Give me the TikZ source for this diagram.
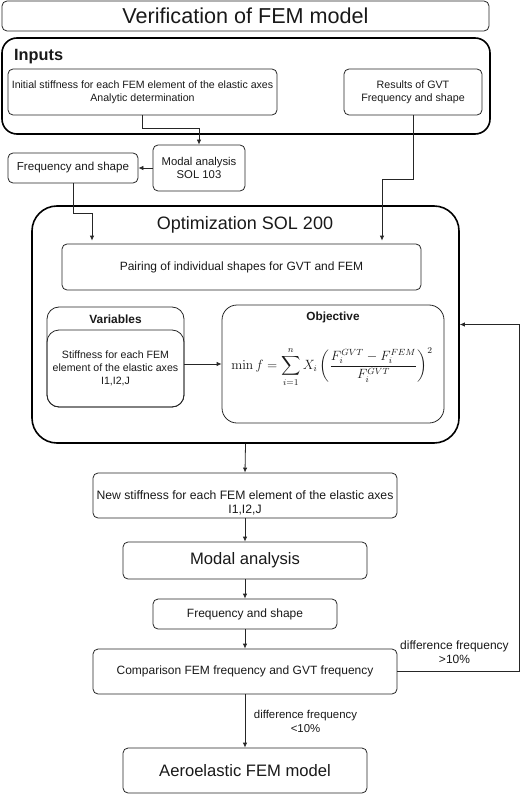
\documentclass[tikz,border=0pt]{standalone}
\usepackage[no-math]{fontspec}
\setmainfont{Liberation Sans}
\usepackage{amsmath}
\usepackage{graphicx}
\usetikzlibrary{arrows.meta,calc}
\begin{document}
\begin{tikzpicture}[x=1pt,y=-1pt,
  box/.style={draw=black!85, rounded corners=5pt, line width=0.8pt, inner sep=1pt, align=center, text=black!90},
  bigbox/.style={draw=black, line width=1.6pt, rounded corners=#1, inner sep=0pt},
  arr/.style={-{Latex[length=5pt,width=4.5pt]}, line width=0.8pt, draw=black!85},
  txt/.style={align=center, inner sep=0pt, text=black!90},
  fsa/.style={font=\fontsize{10.6}{13}\selectfont},
  fsb/.style={font=\fontsize{12}{14}\selectfont},
  fsc/.style={font=\fontsize{16.6}{19}\selectfont},
]
\useasboundingbox (0,0) rectangle (520,794);

% title
\node[box, minimum width=487pt, minimum height=30pt, font=\fontsize{21.6}{24}\selectfont] (title) at (245.5,16) {Verification of FEM model};

% inputs group
\node[bigbox=15pt, minimum width=488pt, minimum height=96pt] (inputs) at (246,86) {};
\node[txt, anchor=west, font=\fontsize{16.3}{18}\bfseries] (inputst) at (14,57) {Inputs};
\node[box, fsa, minimum width=269pt, minimum height=46pt] (init) at (142.5,92) {Initial stiffness for each FEM element of the elastic axes\\Analytic determination};
\node[box, font=\fontsize{10.7}{13}\selectfont, minimum width=138pt, minimum height=46pt] (gvt) at (413,92) {Results of GVT\\Frequency and shape};

\node[box, font=\fontsize{11.3}{13}\selectfont, minimum width=92pt, minimum height=46pt] (modal1) at (199,168) {Modal analysis\\SOL 103};
\node[box, font=\fontsize{11.6}{13}\selectfont, minimum width=130pt, minimum height=30pt] (freq1) at (73,168) {Frequency and shape};

% optimization group
\node[bigbox=25pt, minimum width=427pt, minimum height=237pt] (opt) at (245.5,324.5) {};
\node[txt, font=\fontsize{18}{20}\selectfont] (optt) at (245,225) {Optimization SOL 200};
\node[box, fsb, minimum width=359pt, minimum height=46pt] (pair) at (241.5,267) {Pairing of individual shapes for GVT and FEM};

\node[draw=black!85, line width=0.8pt, rounded corners=12pt, minimum width=137pt, minimum height=100pt, inner sep=0pt] (varout) at (115.5,357) {};
\node[txt, font=\fontsize{11.9}{14}\bfseries] (vart) at (115.5,319) {Variables};
\node[draw=black!85, line width=0.8pt, rounded corners=12pt, minimum width=137pt, minimum height=77pt, inner sep=0pt, align=center, fsa, text=black!90] (varbody) at (115.5,368.5) {Stiffness for each FEM\\element of the elastic axes\\I1,I2,J};

\node[draw=black!85, line width=0.8pt, rounded corners=15pt, minimum width=222pt, minimum height=118pt, inner sep=0pt] (obj) at (333,364) {};
\node[txt, font=\fontsize{11.8}{14}\bfseries] (objt) at (333,317) {Objective};
\node[txt, font=\fontsize{12}{14}\selectfont] (formula) at (332,367) {\scalebox{1.12}{$\displaystyle \min f = \sum_{i=1}^{n} X_i \left(\frac{F_i^{GVT} - F_i^{FEM}}{F_i^{GVT}}\right)^{2}$}};

% lower chain
\node[box, minimum width=304pt, minimum height=45pt] (newst) at (245,495.5) {};
\node[txt, font=\fontsize{12.2}{14}\selectfont] (newstt) at (245,503) {New stiffness for each FEM element of the elastic axes\\I1,I2,J};
\node[box, fsc, minimum width=244pt, minimum height=37pt] (modal2) at (245,560.5) {Modal analysis};
\node[box, fsb, minimum width=184pt, minimum height=30pt] (freq2) at (245,614) {Frequency and shape};
\node[box, fsb, minimum width=304pt, minimum height=45pt] (comp) at (245,671.5) {Comparison FEM frequency and GVT frequency};
\node[box, fsc, minimum width=244pt, minimum height=45pt] (aero) at (245,770.5) {Aeroelastic FEM model};

% labels
\node[txt, font=\fontsize{12}{14}\selectfont] (lblgt) at (454.5,652) {difference frequency\\>10\%};
\node[txt, font=\fontsize{11.4}{14}\selectfont] (lbllt) at (305.5,721) {difference frequency\\<10\%};

% helper coordinates
\coordinate (c1) at (199,128);
\coordinate (c2) at (92,213);
\coordinate (c3) at (382,179);
\coordinate (fbx) at (519,0);

% connectors
\draw[arr] (init.south) |- (c1) -- (modal1.north);
\draw[arr] (modal1.west) -- (freq1.east);
\draw[arr] (freq1.south) |- (c2) -- ($(c2 |- pair.north)+(0,-3)$);
\draw[arr] (gvt.south) |- (c3) -- ($(c3 |- pair.north)+(0,-3)$);
\draw[arr] (varbody.east |- obj.west) -- (obj.west);
\draw[arr] (opt.south) -- (newst.north);
\draw[arr] (newst.south) -- (modal2.north);
\draw[arr] (modal2.south) -- (freq2.north);
\draw[arr] (freq2.south) -- (comp.north);
\draw[arr] (comp.south) -- (aero.north);
\draw[arr] (comp.east) -- (comp.east -| fbx) |- (opt.east);
\end{tikzpicture}
\end{document}
